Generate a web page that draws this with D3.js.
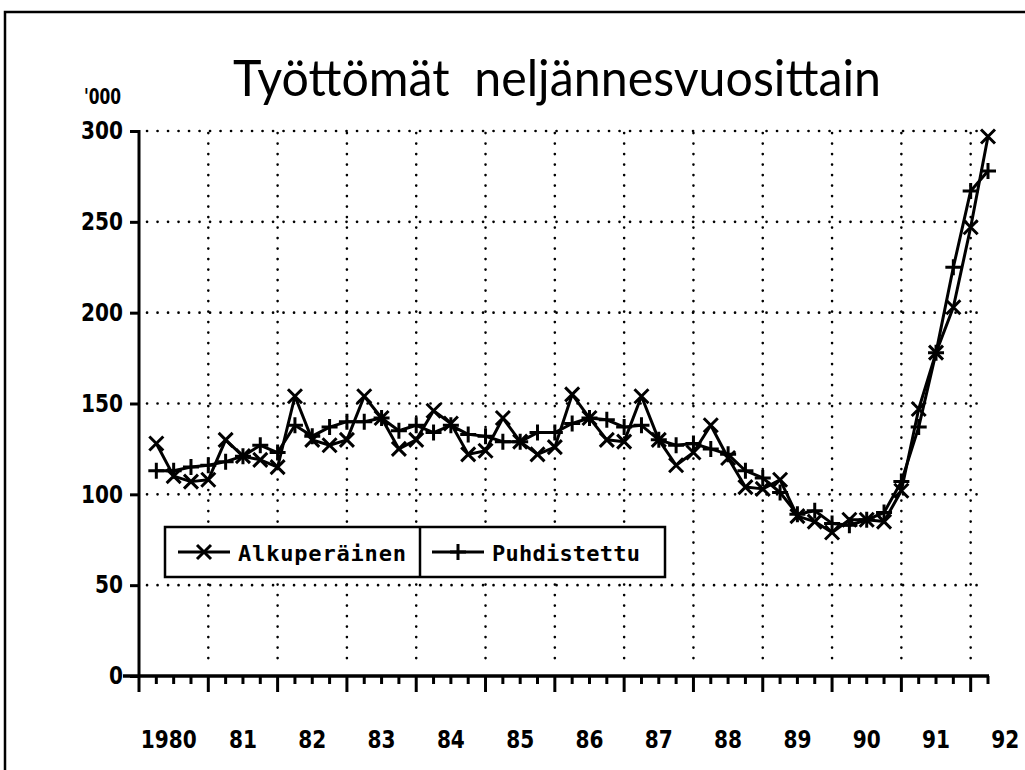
<!DOCTYPE html>
<html>
<head>
  <!-- Import D3.js -->
  <script type="text/javascript" src="https://d3js.org/d3.v7.min.js"></script>
  <style type="text/css">
  html, body {
    overflow: hidden;
    margin: 0px;
    background: #fff;
  }
  </style>
</head>
<body>
<script>
"use strict";

// Quarterly unemployment, thousands, 1980Q1 .. 1992Q1
const YEAR_LABELS = ["1980", "81", "82", "83", "84", "85", "86", "87", "88", "89", "90", "91", "92"];
const ALKUPERAINEN = [
  128, 110, 107, 108,
  130, 121, 119, 115,
  154, 130, 127, 130,
  154, 142, 125, 130,
  146, 139, 122, 124,
  142, 129, 122, 126,
  155, 142, 130, 129,
  154, 130, 116, 123,
  138, 120, 104, 103,
  108, 88, 85, 79,
  86, 86, 85, 102,
  147, 178, 203, 247,
  297
];
const PUHDISTETTU = [
  113, 113, 115, 116,
  118, 121, 127, 123,
  138, 132, 137, 140,
  140, 142, 135, 138,
  134, 138, 133, 132,
  129, 129, 134, 134,
  139, 142, 141, 137,
  138, 130, 127, 128,
  125, 122, 113, 109,
  101, 89, 91, 84,
  83, 86, 90, 107,
  137, 178, 225, 267,
  278
];
const Y_TICKS = [0, 50, 100, 150, 200, 250, 300];
const SERIES_NAMES = ["Alkuperäinen", "Puhdistettu"];
const TITLE = "Työttömät  neljännesvuosittain";
const UNIT_LABEL = "'000";

document.addEventListener("DOMContentLoaded", function() {
  const WIDTH = 1025;
  const HEIGHT = 770;
  const LEFT = 139;      // y axis position (= 1979Q4)
  const RIGHT = 988;     // end of x axis (= 1992Q1)
  const TOP = 131;       // value 300
  const BOTTOM = 676;    // value 0
  const LABEL_FONT = "bold 24px 'DejaVu Sans', sans-serif";
  const DIGIT_W = 14;    // squeezed width of one digit

  const SVG = d3.select("body").append("svg")
    .attr("width", WIDTH)
    .attr("height", HEIGHT);

  // quarter index: -1 = 1979Q4, 0 = 1980Q1 ... 48 = 1992Q1
  const X_SCALE = d3.scaleLinear().domain([-1, ALKUPERAINEN.length - 1]).range([LEFT, RIGHT]);
  const Y_SCALE = d3.scaleLinear().domain([0, 300]).range([BOTTOM, TOP]);

  // outer frame (only top and left edges show)
  SVG.append("path")
    .attr("d", `M5,${HEIGHT + 5} L5,12 L${WIDTH + 5},12`)
    .attr("fill", "none")
    .attr("stroke", "#000")
    .attr("stroke-width", 2.5);

  // title
  SVG.append("text")
    .attr("x", 233)
    .attr("y", 96)
    .attr("textLength", 648)
    .attr("lengthAdjust", "spacingAndGlyphs")
    .style("font", "400 50px Lato, 'Open Sans', sans-serif")
    .style("white-space", "pre")
    .text(TITLE);

  SVG.append("text")
    .attr("x", 84)
    .attr("y", 104)
    .attr("textLength", 37)
    .attr("lengthAdjust", "spacingAndGlyphs")
    .style("font", "bold 21px 'DejaVu Sans', sans-serif")
    .text(UNIT_LABEL);

  // dotted grid
  const G_GRID = SVG.append("g")
    .attr("stroke", "#000")
    .attr("stroke-width", 2.6)
    .attr("stroke-linecap", "round")
    .attr("stroke-dasharray", "0.1,10.4");

  G_GRID.selectAll("line.h")
    .data(Y_TICKS.filter(d => d > 0))
    .join("line")
    .attr("class", "h")
    .attr("x1", LEFT + 8)
    .attr("x2", RIGHT - 4)
    .attr("y1", d => Y_SCALE(d))
    .attr("y2", d => Y_SCALE(d));

  const yearEnds = d3.range(3, ALKUPERAINEN.length, 4);
  G_GRID.selectAll("line.v")
    .data(yearEnds)
    .join("line")
    .attr("class", "v")
    .attr("x1", d => X_SCALE(d))
    .attr("x2", d => X_SCALE(d))
    .attr("y1", TOP + 2)
    .attr("y2", BOTTOM - 8);

  // y axis
  const G_Y = SVG.append("g").attr("transform", `translate(${LEFT},0)`);
  G_Y.call(d3.axisLeft(Y_SCALE).tickValues(Y_TICKS).tickSize(9).tickPadding(7))
    .call(g => g.select(".domain").remove());
  G_Y.selectAll(".tick line").attr("stroke-width", 3);
  G_Y.selectAll(".tick text")
    .style("font", LABEL_FONT)
    .attr("textLength", d => String(d).length * DIGIT_W)
    .attr("lengthAdjust", "spacingAndGlyphs");
  G_Y.append("line")
    .attr("y1", TOP - 1)
    .attr("y2", BOTTOM + 16)
    .attr("stroke", "#000")
    .attr("stroke-width", 3);

  // x axis with quarter ticks, long ones at year ends
  const G_X = SVG.append("g");
  G_X.append("line")
    .attr("x1", LEFT - 16)
    .attr("x2", RIGHT + 1)
    .attr("y1", BOTTOM)
    .attr("y2", BOTTOM)
    .attr("stroke", "#000")
    .attr("stroke-width", 3.5);
  G_X.selectAll("line.tick")
    .data(d3.range(0, ALKUPERAINEN.length))
    .join("line")
    .attr("class", "tick")
    .attr("x1", d => X_SCALE(d))
    .attr("x2", d => X_SCALE(d))
    .attr("y1", BOTTOM)
    .attr("y2", d => (d + 1) % 4 === 0 ? BOTTOM + 16 : BOTTOM + 8)
    .attr("stroke", "#000")
    .attr("stroke-width", 3);

  G_X.selectAll("text")
    .data(YEAR_LABELS)
    .join("text")
    .attr("x", (d, i) => X_SCALE(i * 4 + 1) - (i === 0 ? 5 : 0))
    .attr("y", 748)
    .attr("text-anchor", "middle")
    .attr("textLength", d => d.length * DIGIT_W)
    .attr("lengthAdjust", "spacingAndGlyphs")
    .style("font", LABEL_FONT)
    .text(d => d);

  // series lines and markers
  const LINE = d3.line()
    .x((d, i) => X_SCALE(i))
    .y(d => Y_SCALE(d));

  const markerX = "M-7,-7L7,7M-7,7L7,-7";
  const markerPlus = "M-8,0L8,0M0,-8L0,8";

  [[PUHDISTETTU, markerPlus], [ALKUPERAINEN, markerX]].forEach(([values, marker]) => {
    SVG.append("path")
      .datum(values)
      .attr("d", LINE)
      .attr("fill", "none")
      .attr("stroke", "#000")
      .attr("stroke-width", 3)
      .attr("stroke-linejoin", "round");
    SVG.append("g")
      .selectAll("path")
      .data(values)
      .join("path")
      .attr("transform", (d, i) => `translate(${X_SCALE(i)},${Y_SCALE(d)})`)
      .attr("d", marker)
      .attr("fill", "none")
      .attr("stroke", "#000")
      .attr("stroke-width", 3);
  });

  // legend
  const G_LEGEND = SVG.append("g");
  G_LEGEND.append("rect")
    .attr("x", 165)
    .attr("y", 527)
    .attr("width", 500)
    .attr("height", 50)
    .attr("fill", "#fff")
    .attr("stroke", "#000")
    .attr("stroke-width", 2.5);
  G_LEGEND.append("line")
    .attr("x1", 420).attr("x2", 420)
    .attr("y1", 527).attr("y2", 577)
    .attr("stroke", "#000")
    .attr("stroke-width", 2.5);

  const legendItems = [
    { name: SERIES_NAMES[0], marker: markerX, x: 178, len: 168 },
    { name: SERIES_NAMES[1], marker: markerPlus, x: 432, len: 148 }
  ];
  legendItems.forEach(item => {
    G_LEGEND.append("line")
      .attr("x1", item.x).attr("x2", item.x + 52)
      .attr("y1", 552).attr("y2", 552)
      .attr("stroke", "#000")
      .attr("stroke-width", 3);
    G_LEGEND.append("path")
      .attr("transform", `translate(${item.x + 26},552)`)
      .attr("d", item.marker)
      .attr("fill", "none")
      .attr("stroke", "#000")
      .attr("stroke-width", 3);
    G_LEGEND.append("text")
      .attr("x", item.x + 60)
      .attr("y", 561)
      .attr("textLength", item.len)
      .attr("lengthAdjust", "spacing")
      .style("font", "bold 22px 'DejaVu Sans Mono', monospace")
      .text(item.name);
  });
});
</script>
</body>
</html>
